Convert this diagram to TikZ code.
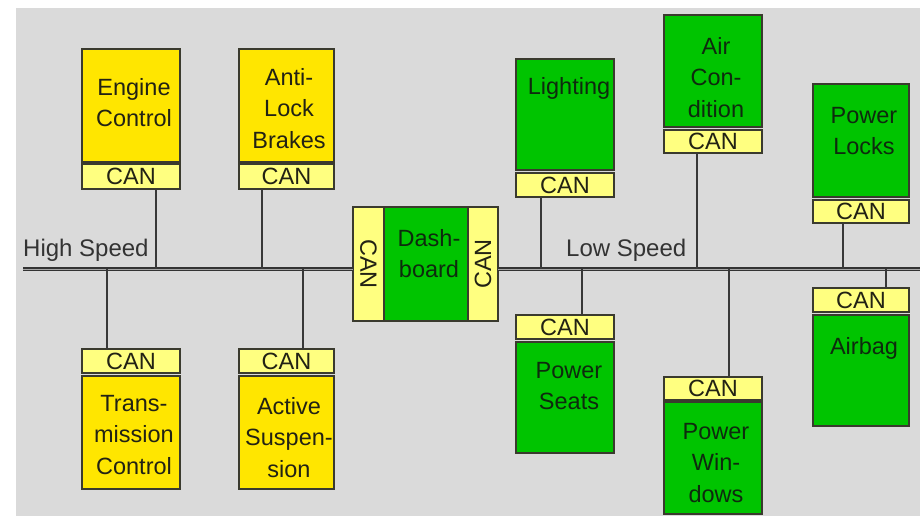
\documentclass[tikz,border=0pt]{standalone}
\usepackage{fontspec}
\setmainfont{Liberation Sans}
\definecolor{bgc}{HTML}{DADADA}
\definecolor{yel}{HTML}{FFE600}
\definecolor{canyel}{HTML}{FFFF80}
\definecolor{grn}{HTML}{00C400}
\definecolor{edge}{HTML}{3A3A2E}
\definecolor{txt}{HTML}{222214}
\definecolor{gtxt}{HTML}{0E2A0E}
\definecolor{wirec}{HTML}{383838}
\tikzset{
  blk/.style={draw=edge, line width=1.3pt, anchor=north west, inner sep=0pt, outer sep=0pt},
  ybox/.style={blk, fill=yel},
  gbox/.style={blk, fill=grn},
  canbox/.style={blk, fill=canyel, text=txt, font=\fontsize{23.5}{28}\selectfont},
  ytext/.style={anchor=north, inner sep=0pt, align=center, text=txt, font=\fontsize{23.5}{31.5}\selectfont},
  gtext/.style={ytext, text=gtxt},
  wire/.style={draw=wirec, line width=1.3pt},
  bus/.style={draw=black!80, line width=1.6pt, double=black!35, double distance=0.9pt},
  buslabel/.style={anchor=base west, inner sep=0pt, text=black!80, font=\fontsize{24}{28}\selectfont}
}
\begin{document}
\begin{tikzpicture}[x=1pt,y=-1pt]
\useasboundingbox (0,0) rectangle (920,516);
\fill[bgc] (16,8) rectangle (920,516);

% bus
\coordinate (busL) at (23,269);
\coordinate (busR) at (920,269);

% dashboard
\node[blk, fill=canyel, minimum width=31, minimum height=114] (dashL) at (353,207) {};
\node[gbox, minimum width=84, minimum height=114] (dashC) at (384,207) {};
\node[blk, fill=canyel, minimum width=30, minimum height=114] (dashR) at (468,207) {};
\node[rotate=-90, text=txt, inner sep=0pt, font=\fontsize{23.5}{28}\selectfont] (dashLt) at (dashL.center) {CAN};
\node[rotate=90, text=txt, inner sep=0pt, font=\fontsize{23.5}{28}\selectfont] (dashRt) at (dashR.center) {CAN};
\node[gtext] (dasht) at (429,229) {Dash-\\board};

\draw[bus] (busL) -- (dashL.west |- busL);
\draw[bus] (dashR.east |- busR) -- (busR);

\node[buslabel] (hs) at (23,256) {High Speed};
\node[buslabel] (ls) at (566,256) {Low Speed};

% ---- high speed (yellow) ----
% Engine Control
\node[ybox, minimum width=98, minimum height=113] (eng) at (82,49) {};
\node[canbox, minimum width=98, minimum height=25] (engcan) at (82,164) {CAN};
\node[ytext] (engt) at (134,78) {Engine\\Control};
% Anti-Lock Brakes
\node[ybox, minimum width=95, minimum height=113] (abs) at (239,49) {};
\node[canbox, minimum width=95, minimum height=25] (abscan) at (239,164) {CAN};
\node[ytext] (abst) at (289,68) {Anti-\\Lock\\Brakes};
% Transmission Control
\node[canbox, minimum width=98, minimum height=24] (trncan) at (82,349) {CAN};
\node[ybox, minimum width=98, minimum height=113] (trn) at (82,376) {};
\node[ytext] (trnt) at (134,395) {Trans-\\mission\\Control};
% Active Suspension
\node[canbox, minimum width=95, minimum height=24] (suscan) at (239,349) {CAN};
\node[ybox, minimum width=95, minimum height=113] (sus) at (239,376) {};
\node[ytext] (sust) at (289,397) {Active\\Suspen-\\sion};

% ---- low speed (green) ----
% Lighting
\node[gbox, minimum width=98, minimum height=111] (lig) at (516,59) {};
\node[canbox, minimum width=98, minimum height=24] (ligcan) at (516,173) {CAN};
\node[gtext] (ligt) at (569,77) {Lighting};
% Air Condition
\node[gbox, minimum width=98, minimum height=112] (air) at (664,15) {};
\node[canbox, minimum width=98, minimum height=23] (aircan) at (664,130) {CAN};
\node[gtext] (airt) at (716,37) {Air\\Con-\\dition};
% Power Seats
\node[canbox, minimum width=98, minimum height=24] (seatcan) at (516,315) {CAN};
\node[gbox, minimum width=98, minimum height=111] (seat) at (516,342) {};
\node[gtext] (seatt) at (569,362) {Power\\Seats};
% Power Windows
\node[canbox, minimum width=98, minimum height=23] (wincan) at (664,377) {CAN};
\node[gbox, minimum width=98, minimum height=112] (win) at (664,402) {};
\node[gtext] (wint) at (716,423) {Power\\Win-\\dows};
% Power Locks
\node[gbox, minimum width=96, minimum height=113] (lock) at (813,84) {};
\node[canbox, minimum width=96, minimum height=23] (lockcan) at (813,200) {CAN};
\node[gtext] (lockt) at (864,107) {Power\\Locks};
% Airbag
\node[canbox, minimum width=96, minimum height=24] (bagcan) at (813,288) {CAN};
\node[gbox, minimum width=96, minimum height=111] (bag) at (813,315) {};
\node[gtext] (bagt) at (864,337) {Airbag};

% bus taps
\coordinate (t1) at (156,269);
\coordinate (t2) at (262,269);
\coordinate (t3) at (107,269);
\coordinate (t4) at (303,269);
\coordinate (t5) at (541,269);
\coordinate (t6) at (697,269);
\coordinate (t7) at (582,269);
\coordinate (t8) at (729,269);
\coordinate (t9) at (843,269);
\coordinate (t10) at (886,269);

\draw[wire] (t1 |- engcan.south) -- (t1);
\draw[wire] (t2 |- abscan.south) -- (t2);
\draw[wire] (t3) -- (t3 |- trncan.north);
\draw[wire] (t4) -- (t4 |- suscan.north);
\draw[wire] (t5 |- ligcan.south) -- (t5);
\draw[wire] (t6 |- aircan.south) -- (t6);
\draw[wire] (t7) -- (t7 |- seatcan.north);
\draw[wire] (t8) -- (t8 |- wincan.north);
\draw[wire] (t9 |- lockcan.south) -- (t9);
\draw[wire] (t10) -- (t10 |- bagcan.north);
\end{tikzpicture}
\end{document}
